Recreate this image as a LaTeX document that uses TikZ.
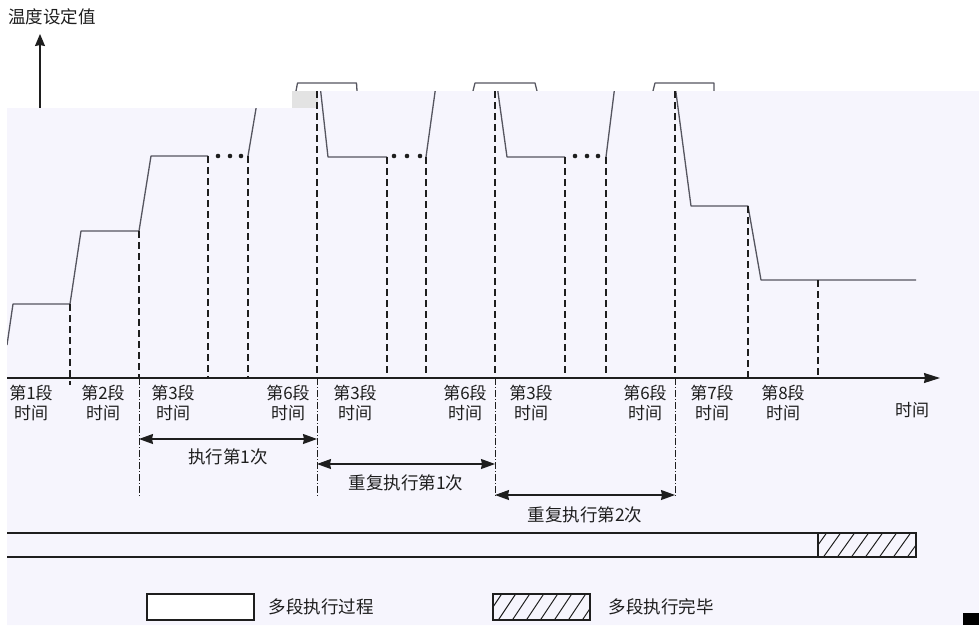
\documentclass[tikz,border=0pt]{standalone}
\usepackage{fontspec}
\newfontfamily\cjk{Noto Sans CJK SC}
\usetikzlibrary{arrows.meta, positioning, calc}
\definecolor{panelcolor}{RGB}{246,245,253}
\definecolor{curvecolor}{RGB}{85,85,95}
\definecolor{inkcolor}{RGB}{30,30,30}

\begin{document}
\begin{tikzpicture}[
    x=1pt, y=-1pt,
    curve/.style={line width=1.3pt, curvecolor, line join=round},
    guide/.style={line width=1.1pt, inkcolor, dash pattern=on 7pt off 4pt},
    lowguide/.style={line width=0.8pt, inkcolor, dash pattern=on 7pt off 2pt on 1pt off 2pt},
    span/.style={{Stealth[length=14pt,width=10pt,inset=1pt]}-{Stealth[length=14pt,width=10pt,inset=1pt]}, line width=1.1pt, inkcolor},
    seg/.style={font=\cjk\fontsize{17}{20}\selectfont, align=center, text=inkcolor, inner sep=0pt},
    note/.style={font=\cjk\fontsize{17.5}{20}\selectfont, text=inkcolor, inner sep=0pt},
    dot/.style={fill=inkcolor, circle, inner sep=0pt, minimum size=4.6pt},
    legendbox/.style={draw=inkcolor, line width=1.1pt, minimum height=26pt, inner sep=0pt}
]
    \useasboundingbox (0,0) rectangle (979,625);

    % Axis and peak tops above the panel
    \draw[line width=1.3pt, inkcolor, -{Stealth[length=12pt,width=10pt,inset=1pt]}] (40,108) -- (40,34);
    \node[note, anchor=west] (ylabel) at (8,17) {温度设定值};
    \draw[curve] (296,91) -- (297.5,83) -- (356.5,83) -- (357,91);
    \draw[curve] (473,91) -- (475,83) -- (535,83) -- (537,91);
    \draw[curve] (653,91) -- (655,83) -- (714,83) -- (714,91);

    % Panel
    \fill[panelcolor] (7,108) -- (292,108) -- (292,91) -- (979,91) -- (979,625) -- (7,625) -- cycle;
    \fill[gray!22] (292,91) rectangle (318,108);

    \begin{scope}
        \clip (7,108) -- (292,108) -- (292,91) -- (979,91) -- (979,625) -- (7,625) -- cycle;
        % Curve
        \draw[curve] (7,345) -- (13,304) -- (70,304) -- (81,231) -- (139,231) -- (151,156) -- (208,156);
        \draw[curve] (248,156) -- (260,85);
        \draw[curve] (320,85) -- (328,157) -- (387,157);
        \draw[curve] (426,157) -- (436,85);
        \draw[curve] (497,85) -- (507,157) -- (565,157);
        \draw[curve] (606,157) -- (615,85);
        \draw[curve] (675,85) -- (691,206) -- (748,206) -- (761,280) -- (916,280);
        % Guides
        \draw[guide] (70,304) -- (70,385);
        \draw[guide] (139,231) -- (139,378);
        \draw[guide] (208,156) -- (208,378);
        \draw[guide] (248,156) -- (248,378);
        \draw[guide] (317,91) -- (317,378);
        \draw[guide] (387,157) -- (387,378);
        \draw[guide] (426,157) -- (426,378);
        \draw[guide] (495,91) -- (495,378);
        \draw[guide] (565,157) -- (565,378);
        \draw[guide] (606,157) -- (606,378);
        \draw[guide] (675,91) -- (675,378);
        \draw[guide] (748,206) -- (748,378);
        \draw[guide] (818,280) -- (818,378);
    \end{scope}

    % Dots
    \foreach \x in {218,230,241,394,407,420,575,587,598}
        \node[dot] at (\x,156) {};

    % Time axis
    \draw[line width=1.2pt, inkcolor, -{Stealth[length=16pt,width=10pt,inset=1pt]}] (7,378) -- (940,378);
    \node[seg] (tlabel) at (912,410) {时间};

    % Segment labels
    \node[seg] (s1) at (31,403) {第1段\\时间};
    \node[seg] (s2) at (103,403) {第2段\\时间};
    \node[seg] (s3a) at (173,403) {第3段\\时间};
    \node[seg] (s6a) at (288,403) {第6段\\时间};
    \node[seg] (s3b) at (355,403) {第3段\\时间};
    \node[seg] (s6b) at (465,403) {第6段\\时间};
    \node[seg] (s3c) at (531,403) {第3段\\时间};
    \node[seg] (s6c) at (645,403) {第6段\\时间};
    \node[seg] (s7) at (712,403) {第7段\\时间};
    \node[seg] (s8) at (783,403) {第8段\\时间};

    % Repeat spans
    \coordinate (cut3) at (139,497);
    \coordinate (cut6a) at (317,497);
    \coordinate (cut6b) at (495,497);
    \coordinate (cut6c) at (675,497);
    \draw[lowguide] (139,378) -- (cut3);
    \draw[lowguide] (317,378) -- (cut6a);
    \draw[lowguide] (495,378) -- (cut6b);
    \draw[lowguide] (675,378) -- (cut6c);
    \coordinate (run1L) at (139,439);
    \coordinate (run1R) at (317,439);
    \coordinate (run2L) at (317,464);
    \coordinate (run2R) at (495,464);
    \coordinate (run3L) at (495,495);
    \coordinate (run3R) at (675,495);
    \draw[span] (run1L) -- node[note, below=9pt] {执行第1次} (run1R);
    \draw[span] (run2L) -- node[note, below=10pt] {重复执行第1次} (run2R);
    \draw[span] (run3L) -- node[note, below=11pt] {重复执行第2次} (run3R);

    % Progress bar
    \draw[line width=1.2pt, inkcolor] (7,533) -- (916,533);
    \draw[line width=1.2pt, inkcolor] (7,557) -- (916,557);
    \begin{scope}
        \clip (818,533) rectangle (916,557);
        \foreach \i in {0,...,8}
            \draw[line width=1pt, inkcolor] (808+\i*14,559) -- ++(20,-28);
    \end{scope}
    \draw[line width=1.1pt, inkcolor] (818,533) rectangle (916,557);

    % Legend
    \node[legendbox, minimum width=107pt, fill=white] (procbox) at (200.5,607) {};
    \node[note, right=14pt of procbox] (proctext) {多段执行过程};
    \node[legendbox, minimum width=97pt] (donebox) at (541.5,607) {};
    \begin{scope}
        \clip (donebox.south west) rectangle (donebox.north east);
        \foreach \i in {0,...,8}
            \draw[line width=1pt, inkcolor] (483+\i*14,622) -- ++(20,-30);
    \end{scope}
    \node[note, right=18pt of donebox] (donetext) {多段执行完毕};

    % Corner mark
    \fill[black] (963,613) rectangle (979,625);
\end{tikzpicture}
\end{document}
